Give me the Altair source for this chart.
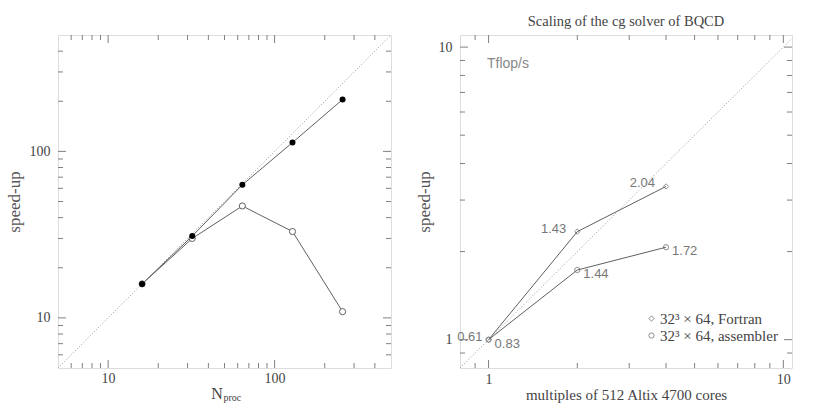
import altair as alt
import pandas as pd

# ---------------- data: left panel ----------------
nproc = [16, 32, 64, 128, 256]
speedup_filled = [16, 31, 63, 113, 205]
speedup_open = [16, 30, 47, 33, 10.9]
left_domain = [5, 500]
left_major = [10, 100]
left_minor = [6, 7, 8, 9, 20, 30, 40, 50, 60, 70, 80, 90, 200, 300, 400]

# ---------------- data: right panel ----------------
multiples = [1, 2, 4]
series_names = ["32³ × 64, Fortran", "32³ × 64, assembler"]
speedup_fortran = [1.0, 2.34, 3.34]
speedup_asm = [1.0, 1.73, 2.07]
tflops_fortran = ["0.61", "1.43", "2.04"]
tflops_asm = ["0.83", "1.44", "1.72"]
right_xdomain = [0.8, 10.7]
right_ydomain = [0.8, 11]
right_major = [1, 10]
right_minor = [0.9, 2, 3, 4, 5, 6, 7, 8, 9]

SERIF = "Liberation Serif"
SANS = "Liberation Sans"
FRAME = "#808080"
LINE = "#606060"
TXT = "#444444"
LBL = "#777777"

W, H = 333, 333


def tick_layers(values, xenc, yenc, length, width, height):
    df = pd.DataFrame({"v": values})
    base = alt.Chart(df).mark_rule(color=FRAME, strokeWidth=1)
    xe = xenc("v:Q")
    ye = yenc("v:Q")
    return [
        base.encode(x=xe, y=alt.value(height), y2=alt.value(height - length)),
        base.encode(x=xe, y=alt.value(0), y2=alt.value(length)),
        base.encode(y=ye, x=alt.value(0), x2=alt.value(length)),
        base.encode(y=ye, x=alt.value(width), x2=alt.value(width - length)),
    ]


# ================= LEFT PANEL =================
lx = alt.Scale(type="log", domain=left_domain, nice=False)
ly = alt.Scale(type="log", domain=left_domain, nice=False)

x_axis_l = alt.Axis(values=left_major, format="d", ticks=False, tickSize=0, domain=False, grid=False,
                    labelFont=SERIF, labelFontSize=14, labelColor=TXT, labelPadding=3,
                    title="N", titleFont=SERIF, titleFontSize=16, titleFontWeight="normal",
                    titleColor=TXT, titleX=W / 2 - 8, titleY=30, titleBaseline="alphabetic")
y_axis_l = alt.Axis(values=left_major, format="d", ticks=False, tickSize=0, domain=False, grid=False,
                    labelFont=SERIF, labelFontSize=14, labelColor=TXT, labelPadding=8,
                    title="speed-up", titleFont=SERIF, titleFontSize=17, titleFontWeight="normal",
                    titleColor="#555555", titlePadding=6)


def LX(f):
    return alt.X(f, scale=lx, axis=x_axis_l)


def LY(f):
    return alt.Y(f, scale=ly, axis=y_axis_l)


left_df = pd.DataFrame({
    "n": nproc * 2,
    "s": speedup_filled + speedup_open,
    "kind": ["filled"] * len(nproc) + ["open"] * len(nproc),
})
filled_df = left_df[left_df.kind == "filled"]
open_df = left_df[left_df.kind == "open"]

diag_l = alt.Chart(pd.DataFrame({"v": left_domain})).mark_line(
    color="#999999", strokeDash=[1, 2], strokeWidth=1, clip=True
).encode(x=LX("v:Q"), y=LY("v:Q"))

lines_l = alt.Chart(left_df).mark_line(color=LINE, strokeWidth=1).encode(
    x=LX("n:Q"), y=LY("s:Q"), detail="kind:N")
open_pts = alt.Chart(open_df).mark_point(shape="circle", size=38, filled=False, color=LINE,
                                         strokeWidth=1, fill="white", fillOpacity=1).encode(
    x=LX("n:Q"), y=LY("s:Q"))
filled_pts = alt.Chart(filled_df).mark_point(shape="circle", size=36, filled=True, color="black",
                                             opacity=1).encode(x=LX("n:Q"), y=LY("s:Q"))

sub_l = alt.Chart(pd.DataFrame({"t": ["proc"]})).mark_text(
    font=SERIF, fontSize=10, color=TXT, align="left", baseline="alphabetic"
).encode(text="t:N", x=alt.value(W / 2 - 1), y=alt.value(H + 33))

left = alt.layer(
    lines_l, diag_l,
    *tick_layers(left_major, LX, LY, 8, W, H),
    *tick_layers(left_minor, LX, LY, 5, W, H),
    open_pts, filled_pts, sub_l
).properties(width=W, height=H, title=alt.TitleParams(" ", font=SERIF, fontSize=14, offset=5))

# ================= RIGHT PANEL =================
rx = alt.Scale(type="log", domain=right_xdomain, nice=False)
ry = alt.Scale(type="log", domain=right_ydomain, nice=False)
RW = W - 1

x_axis_r = alt.Axis(values=right_major, format="d", ticks=False, tickSize=0, domain=False, grid=False,
                    labelFont=SERIF, labelFontSize=14, labelColor=TXT, labelPadding=4,
                    title="multiples of 512 Altix 4700 cores", titleFont=SERIF, titleFontSize=15,
                    titleFontWeight="normal", titleColor=TXT, titlePadding=1)
y_axis_r = alt.Axis(values=right_major, format="d", ticks=False, tickSize=0, domain=False, grid=False,
                    labelFont=SERIF, labelFontSize=14, labelColor=TXT, labelPadding=8,
                    title="speed-up", titleFont=SERIF, titleFontSize=17, titleFontWeight="normal",
                    titleColor="#555555", titlePadding=5)


def RX(f):
    return alt.X(f, scale=rx, axis=x_axis_r)


def RY(f):
    return alt.Y(f, scale=ry, axis=y_axis_r)


right_df = pd.DataFrame({
    "m": multiples * 2,
    "s": speedup_fortran + speedup_asm,
    "series": [series_names[0]] * 3 + [series_names[1]] * 3,
    "label": tflops_fortran + tflops_asm,
})

diag_r = alt.Chart(pd.DataFrame({"v": [right_xdomain[0], right_ydomain[1]]})).mark_line(
    color="#999999", strokeDash=[1, 2], strokeWidth=1, clip=True
).encode(x=RX("v:Q"), y=RY("v:Q"))

lines_r = alt.Chart(right_df).mark_line(color=LINE, strokeWidth=1).encode(
    x=RX("m:Q"), y=RY("s:Q"), detail="series:N")
pts_r = alt.Chart(right_df).mark_point(filled=False, color=LINE, strokeWidth=1, size=28).encode(
    x=RX("m:Q"), y=RY("s:Q"),
    shape=alt.Shape("series:N", scale=alt.Scale(domain=series_names, range=["diamond", "circle"]),
                    legend=alt.Legend(title=None, orient="none", legendX=184, legendY=276,
                                      labelFont=SERIF, labelFontSize=15, labelColor=TXT,
                                      symbolSize=28, symbolStrokeColor=LINE, symbolStrokeWidth=1,
                                      rowPadding=1, labelOffset=1)),
)


def lab(sel, align, dx, dy):
    d = right_df[right_df.label.isin(sel)]
    return alt.Chart(d).mark_text(font=SANS, fontSize=13, color=LBL, align=align,
                                  baseline="middle", dx=dx, dy=dy).encode(
        x=RX("m:Q"), y=RY("s:Q"), text="label:N")


labels_r = [
    lab(["0.61"], "right", -6, -3),
    lab(["1.43", "2.04"], "right", -11, -3),
    lab(["0.83", "1.44", "1.72"], "left", 6, 4),
]

tflop_txt = alt.Chart(pd.DataFrame({"t": ["Tflop/s"]})).mark_text(
    font=SANS, fontSize=14, color="#888888", align="left", baseline="middle"
).encode(text="t:N", x=alt.value(27), y=alt.value(29))

right = alt.layer(
    lines_r, diag_r,
    *tick_layers(right_major, RX, RY, 8, RW, H),
    *tick_layers(right_minor, RX, RY, 5, RW, H),
    pts_r, *labels_r, tflop_txt
).properties(width=RW, height=H,
             title=alt.TitleParams("Scaling of the cg solver of BQCD", font=SERIF, fontSize=14.5,
                                   fontWeight="normal", color=TXT, offset=5))

chart = alt.hconcat(left, right, spacing=22).resolve_scale(shape="independent").resolve_legend(
    shape="independent"
).properties(
    padding={"left": 4, "top": 13, "right": 5, "bottom": 5}
).configure_view(stroke=FRAME, strokeWidth=1).configure(background="white")

chart.save("out.html", embed_options={"renderer": "svg", "actions": False})
